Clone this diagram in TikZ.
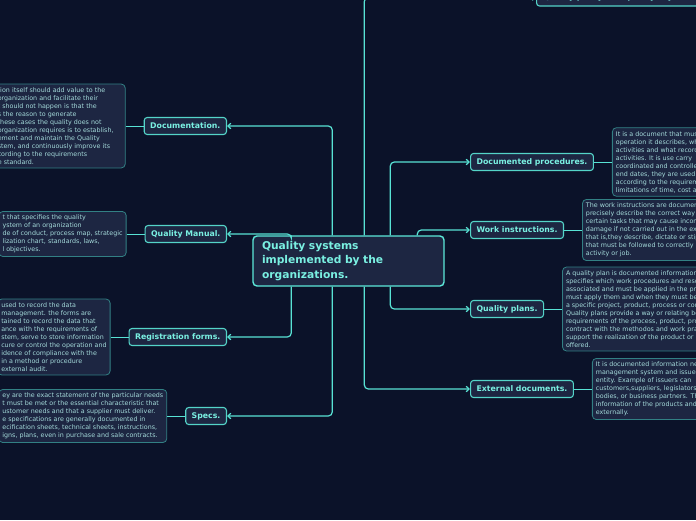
\documentclass[tikz,border=0pt]{standalone}
\usepackage{fontspec}
\setmainfont{DejaVu Sans}
\usetikzlibrary{positioning,arrows.meta}

\definecolor{bgnavy}{RGB}{11,18,41}
\definecolor{boxfill}{RGB}{29,38,66}
\definecolor{rootline}{RGB}{92,232,217}
\definecolor{topicline}{RGB}{84,212,200}
\definecolor{topictext}{RGB}{122,240,226}
\definecolor{noteline}{RGB}{50,128,132}
\definecolor{notetext}{RGB}{164,218,218}
\definecolor{linkcol}{RGB}{88,226,212}

\begin{document}
\begin{tikzpicture}[
    x=1pt, y=-1pt,
    >={Straight Barb[length=3pt,width=5.5pt]},
    node distance=18pt,
    root/.style={
        draw=rootline,
        fill=boxfill,
        rounded corners=4pt,
        line width=1.4pt,
        text=topictext,
        font=\bfseries\fontsize{10.7}{14.5}\selectfont,
        align=left,
        text width=173pt,
        inner xsep=9pt,
        minimum height=50pt
    },
    topic/.style={
        draw=topicline,
        fill=boxfill,
        rounded corners=3pt,
        line width=1.1pt,
        text=topictext,
        font=\bfseries\fontsize{7.8}{9}\selectfont,
        inner xsep=6pt,
        inner ysep=2pt,
        minimum height=17pt
    },
    note/.style={
        draw=noteline,
        fill=boxfill,
        rounded corners=4pt,
        line width=0.8pt,
        text=notetext,
        font=\fontsize{6.35}{8}\selectfont,
        align=left,
        inner xsep=3.5pt,
        inner ysep=3.5pt
    },
    link/.style={draw=linkcol, line width=1.2pt, rounded corners=4pt, ->},
    notelink/.style={draw=linkcol, line width=0.9pt}
]

\useasboundingbox (0,0) rectangle (696,520);
\fill[bgnavy] (0,0) rectangle (696,520);

% Central topic
\node[root] (root) at (348.5,261) {Quality systems\\implemented by the\\organizations.};

% Left branch
\node[topic, anchor=east] (doc) at (227,126) {Documentation.};
\node[note, text width=124pt, left=of doc] (doc_note) {
    tion itself should add value to the\\
    organization and facilitate their\\
    t should not happen is that the\\
    s the reason to generate\\
    these cases the quality does not\\
    organization requires is to establish,\\
    ement and maintain the Quality\\
    stem, and continuously improve its\\
    cording to the requirements\\
    e standard.
};

\node[topic, anchor=east] (manual) at (227,234) {Quality Manual.};
\node[note, left=of manual] (manual_note) {
    t that specifies the quality\\
    ystem of an organization\\
    de of conduct, process map, strategic\\
    lization chart, standards, laws,\\
    l objectives.
};

\node[topic, anchor=east] (forms) at (227,337) {Registration forms.};
\node[note, left=of forms] (forms_note) {
    used to record the data\\
    management. the forms are\\
    tained to record the data that\\
    ance with the requirements of\\
    stem, serve to store information\\
    cure or control the operation and\\
    idence of compliance with the\\
    in a method or procedure\\
    external audit.
};

\node[topic, anchor=east] (specs) at (227,416) {Specs.};
\node[note, left=of specs] (specs_note) {
    ey are the exact statement of the particular needs\\
    t must be met or the essential characteristic that\\
    ustomer needs and that a supplier must deliver.\\
    e specifications are generally documented in\\
    ecification sheets, technical sheets, instructions,\\
    igns, plans, even in purchase and sale contracts.
};

% Right branch
\node[topic, anchor=west] (policy) at (536,-2.5) {Quality policy and quality objectives.};

\node[topic, anchor=west] (proc) at (470,162) {Documented procedures.};
\node[note, right=of proc] (proc_note) {
    It is a document that must\\
    operation it describes, which\\
    activities and what records\\
    activities. It is use carry\\
    coordinated and controlled\\
    end dates, they are used\\
    according to the requirements\\
    limitations of time, cost and
};

\node[topic, anchor=west] (instr) at (470,230) {Work instructions.};
\node[note, right=of instr] (instr_note) {
    The work instructions are documents\\
    precisely describe the correct way\\
    certain tasks that may cause inconveniences\\
    damage if not carried out in the exact\\
    that is,they describe, dictate or stipulate\\
    that must be followed to correctly\\
    activity or job.
};

\node[topic, anchor=west] (plans) at (470,309) {Quality plans.};
\node[note, right=of plans] (plans_note) {
    A quality plan is documented information\\
    specifies which work procedures and resources\\
    associated and must be applied in the project\\
    must apply them and when they must be\\
    a specific project, product, process or contract\\
    Quality plans provide a way or relating between\\
    requirements of the process, product, project\\
    contract with the methodos and work practices\\
    support the realization of the product or\\
    offered.
};

\node[topic, anchor=west] (ext) at (470,389) {External documents.};
\node[note, right=of ext] (ext_note) {
    It is documented information necessary\\
    management system and issued\\
    entity. Example of issuers can\\
    customers,suppliers, legislators\\
    bodies, or business partners. They\\
    information of the products and\\
    externally.
};

% Connections
\draw[link] ([xshift=80pt]root.north west) |- (doc.east);
\draw[link] ([xshift=39pt]root.north west) |- (manual.east);
\draw[link] ([xshift=39pt]root.south west) |- (forms.east);
\draw[link] ([xshift=80pt]root.south west) |- (specs.east);

\draw[link] ([xshift=112pt]root.north west) |- (policy.west);
\draw[link] ([xshift=138pt]root.north west) |- (proc.west);
\draw[link] ([xshift=165pt]root.north west) |- (instr.west);
\draw[link] ([xshift=138pt]root.south west) |- (plans.west);
\draw[link] ([xshift=112pt]root.south west) |- (ext.west);

\draw[notelink] (doc_note) -- (doc);
\draw[notelink] (manual_note) -- (manual);
\draw[notelink] (forms_note) -- (forms);
\draw[notelink] (specs_note) -- (specs);
\draw[notelink] (proc_note) -- (proc);
\draw[notelink] (instr_note) -- (instr);
\draw[notelink] (plans_note) -- (plans);
\draw[notelink] (ext_note) -- (ext);

\end{tikzpicture}
\end{document}
